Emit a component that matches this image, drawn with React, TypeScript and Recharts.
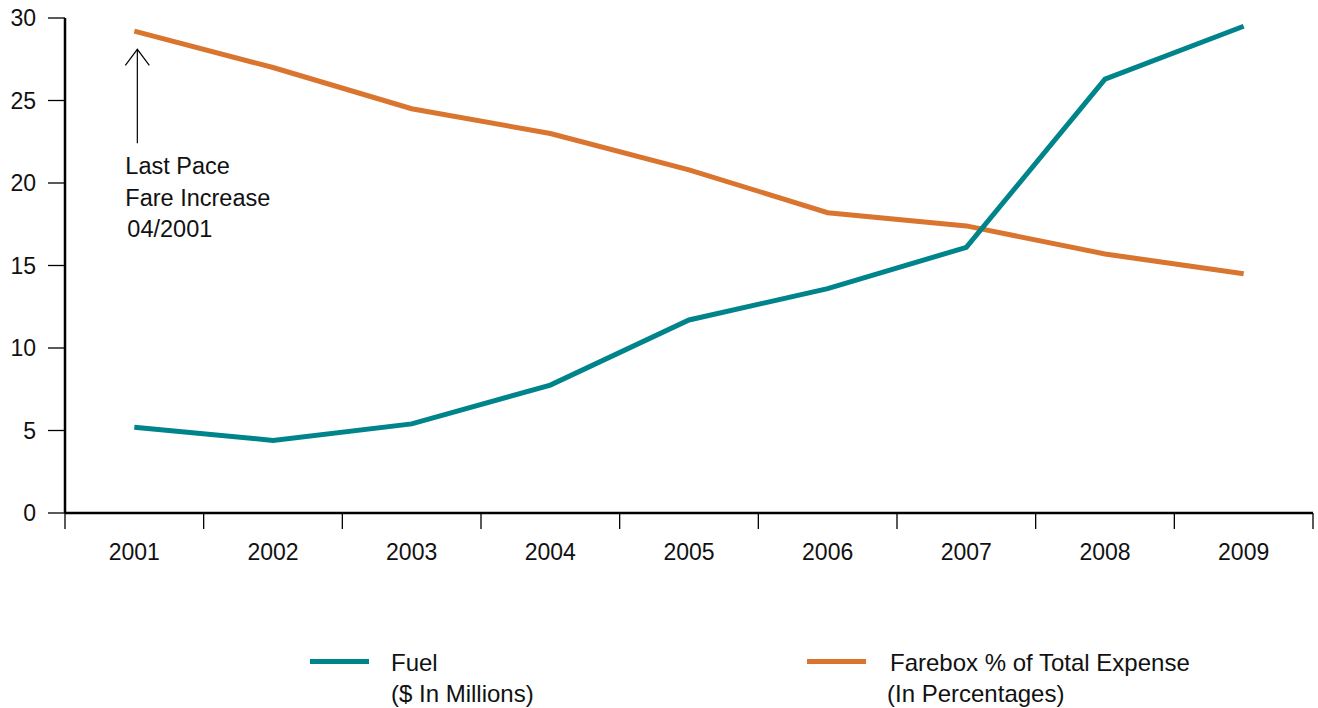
import React from 'react';
import { LineChart, Line, XAxis, YAxis, ReferenceDot } from 'recharts';

const years = ['2001', '2002', '2003', '2004', '2005', '2006', '2007', '2008', '2009'];
const fuel = [5.2, 4.4, 5.4, 7.75, 11.7, 13.6, 16.1, 26.3, 29.5];
const farebox = [29.2, 27.0, 24.5, 23.0, 20.8, 18.2, 17.4, 15.7, 14.5];
const yTicks = [0, 5, 10, 15, 20, 25, 30];
const annotationLines = ['Last Pace', 'Fare Increase', '04/2001'];
const annotationTop = 28.1;

const FUEL_COLOR = '#00848C';
const FARE_COLOR = '#D9752F';
const FONT = '"Liberation Sans", Arial, Helvetica, sans-serif';
const FS = 24;

const W = 1318;
const H = 708;
const M = { top: 18, right: 5, left: 0, bottom: 135 };
const YW = 65;
const plotW = W - M.left - M.right - YW;
const band = plotW / years.length;

const data = years.map((y, i) => ({ year: y, fuel: fuel[i], farebox: farebox[i] }));

const XTick = (props: any) => {
  const { x, y, payload, index } = props;
  const half = band / 2;
  const isLast = index === years.length - 1;
  return (
    <g>
      <line x1={x - half} x2={x - half} y1={y} y2={y + 16} stroke="#000" strokeWidth={1.3} />
      {isLast && <line x1={x + half} x2={x + half} y1={y} y2={y + 16} stroke="#000" strokeWidth={1.3} />}
      <text x={x} y={y + 47} textAnchor="middle" fontSize={FS - 1} fontFamily={FONT} fill="#111">
        {payload.value}
      </text>
    </g>
  );
};

const Annotation = (props: any) => {
  const { cx, cy } = props;
  if (cx == null || cy == null) return null;
  const ax = cx + 3;
  return (
    <g>
      <line x1={ax} x2={ax} y1={cy} y2={cy + 94} stroke="#000" strokeWidth={1.2} />
      <polyline points={`${ax - 12},${cy + 16} ${ax},${cy} ${ax + 12},${cy + 16}`} fill="none" stroke="#000" strokeWidth={1.2} />
      {annotationLines.map((t, i) => (
        <text key={i} x={cx - 9 + (i === 2 ? 2 : 0)} y={cy + 125 + i * 31.5} fontSize={FS - 0.5} fontFamily={FONT} fill="#111">
          {t}
        </text>
      ))}
    </g>
  );
};

export default function App() {
  return (
    <div style={{ position: 'absolute', left: 0, top: 0, width: W, height: H, background: '#fff', fontFamily: FONT }}>
      <LineChart width={W} height={H} data={data} margin={M}>
        <XAxis
          dataKey="year"
          tick={<XTick />}
          tickLine={false}
          tickSize={0}
          tickMargin={0}
          axisLine={{ stroke: '#000', strokeWidth: 2.5 }}
          height={60}
          interval={0}
          padding={{ left: band / 2, right: band / 2 }}
        />
        <YAxis
          domain={[0, 30]}
          ticks={yTicks}
          width={YW}
          tickSize={17}
          tickMargin={12}
          tickLine={{ stroke: '#000', strokeWidth: 1.3 }}
          axisLine={{ stroke: '#000', strokeWidth: 2.5 }}
          tick={{ fontSize: FS - 1, fontFamily: FONT, fill: '#111' }}
          interval={0}
        />
        <Line type="linear" dataKey="farebox" stroke={FARE_COLOR} strokeWidth={5} dot={false} isAnimationActive={false} />
        <Line type="linear" dataKey="fuel" stroke={FUEL_COLOR} strokeWidth={5} dot={false} isAnimationActive={false} />
        <ReferenceDot x={years[0]} y={annotationTop} shape={<Annotation />} />
      </LineChart>
      <div style={{ position: 'absolute', left: 310, top: 659, width: 59, height: 5, background: FUEL_COLOR }} />
      <div style={{ position: 'absolute', left: 391, top: 647, fontSize: FS, lineHeight: '31px', color: '#111' }}>
        <div>Fuel</div>
        <div>($ In Millions)</div>
      </div>
      <div style={{ position: 'absolute', left: 807, top: 659, width: 59, height: 5, background: FARE_COLOR }} />
      <div style={{ position: 'absolute', left: 887, top: 647, fontSize: FS, lineHeight: '31px', color: '#111' }}>
        <div style={{ marginLeft: 3 }}>Farebox % of Total Expense</div>
        <div>(In Percentages)</div>
      </div>
    </div>
  );
}
